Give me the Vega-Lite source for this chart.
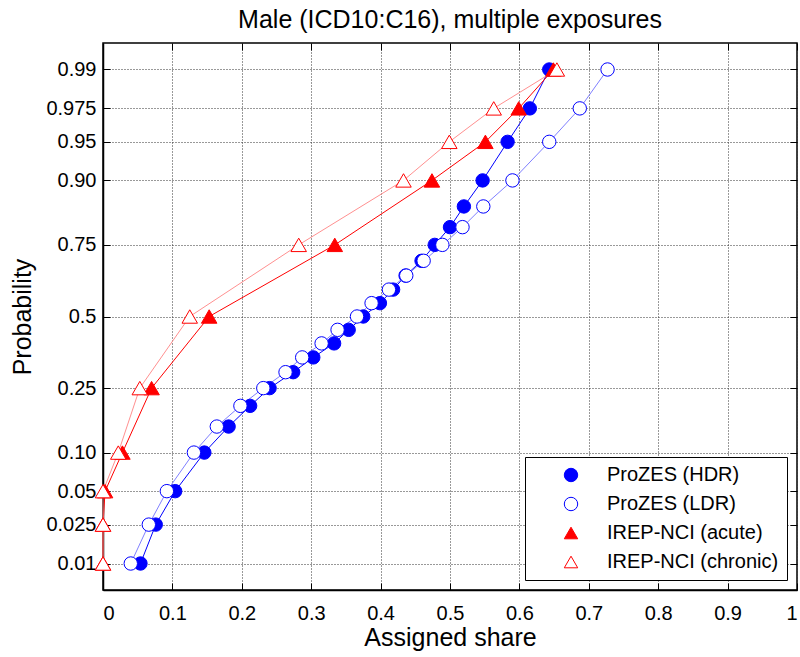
{
  "$schema": "https://vega.github.io/schema/vega-lite/v6.json",
  "width": 694,
  "height": 547,
  "autosize": {"type": "none"},
  "padding": {"left": 103, "top": 43, "right": 3, "bottom": 67},
  "background": "white",
  "title": {"text": "Male (ICD10:C16), multiple exposures", "fontSize": 25, "font": "Liberation Sans", "fontWeight": "normal", "color": "black", "offset": 10, "anchor": "middle"},
  "config": {
    "view": {"stroke": "black", "strokeWidth": 1.5},
    "font": "Liberation Sans",
    "axis": {"labelFont": "Liberation Sans", "titleFont": "Liberation Sans", "labelColor": "black", "titleColor": "black", "titleFontWeight": "normal", "domainColor": "black", "tickColor": "black", "domainWidth": 1.5, "tickWidth": 1, "gridColor": "#333333", "gridDash": [1, 2], "gridWidth": 1, "gridOpacity": 1}
  },
  "data": {"values": [
    {"series": "ProZES (HDR)", "p": 0.01, "z": -2.3263, "share": 0.054},
    {"series": "ProZES (HDR)", "p": 0.025, "z": -1.96, "share": 0.076},
    {"series": "ProZES (HDR)", "p": 0.05, "z": -1.6449, "share": 0.104},
    {"series": "ProZES (HDR)", "p": 0.10, "z": -1.2816, "share": 0.146},
    {"series": "ProZES (HDR)", "p": 0.15, "z": -1.0364, "share": 0.181},
    {"series": "ProZES (HDR)", "p": 0.20, "z": -0.8416, "share": 0.212},
    {"series": "ProZES (HDR)", "p": 0.25, "z": -0.6745, "share": 0.240},
    {"series": "ProZES (HDR)", "p": 0.30, "z": -0.5244, "share": 0.274},
    {"series": "ProZES (HDR)", "p": 0.35, "z": -0.3853, "share": 0.303},
    {"series": "ProZES (HDR)", "p": 0.40, "z": -0.2533, "share": 0.333},
    {"series": "ProZES (HDR)", "p": 0.45, "z": -0.1257, "share": 0.354},
    {"series": "ProZES (HDR)", "p": 0.50, "z": 0, "share": 0.375},
    {"series": "ProZES (HDR)", "p": 0.55, "z": 0.1257, "share": 0.399},
    {"series": "ProZES (HDR)", "p": 0.60, "z": 0.2533, "share": 0.418},
    {"series": "ProZES (HDR)", "p": 0.65, "z": 0.3853, "share": 0.436},
    {"series": "ProZES (HDR)", "p": 0.70, "z": 0.5244, "share": 0.459},
    {"series": "ProZES (HDR)", "p": 0.75, "z": 0.6745, "share": 0.478},
    {"series": "ProZES (HDR)", "p": 0.80, "z": 0.8416, "share": 0.500},
    {"series": "ProZES (HDR)", "p": 0.85, "z": 1.0364, "share": 0.520},
    {"series": "ProZES (HDR)", "p": 0.90, "z": 1.2816, "share": 0.547},
    {"series": "ProZES (HDR)", "p": 0.95, "z": 1.6449, "share": 0.583},
    {"series": "ProZES (HDR)", "p": 0.975, "z": 1.96, "share": 0.615},
    {"series": "ProZES (HDR)", "p": 0.99, "z": 2.3263, "share": 0.643},
    {"series": "ProZES (LDR)", "p": 0.01, "z": -2.3263, "share": 0.040},
    {"series": "ProZES (LDR)", "p": 0.025, "z": -1.96, "share": 0.066},
    {"series": "ProZES (LDR)", "p": 0.05, "z": -1.6449, "share": 0.092},
    {"series": "ProZES (LDR)", "p": 0.10, "z": -1.2816, "share": 0.131},
    {"series": "ProZES (LDR)", "p": 0.15, "z": -1.0364, "share": 0.164},
    {"series": "ProZES (LDR)", "p": 0.20, "z": -0.8416, "share": 0.198},
    {"series": "ProZES (LDR)", "p": 0.25, "z": -0.6745, "share": 0.231},
    {"series": "ProZES (LDR)", "p": 0.30, "z": -0.5244, "share": 0.263},
    {"series": "ProZES (LDR)", "p": 0.35, "z": -0.3853, "share": 0.287},
    {"series": "ProZES (LDR)", "p": 0.40, "z": -0.2533, "share": 0.315},
    {"series": "ProZES (LDR)", "p": 0.45, "z": -0.1257, "share": 0.338},
    {"series": "ProZES (LDR)", "p": 0.50, "z": 0, "share": 0.366},
    {"series": "ProZES (LDR)", "p": 0.55, "z": 0.1257, "share": 0.387},
    {"series": "ProZES (LDR)", "p": 0.60, "z": 0.2533, "share": 0.412},
    {"series": "ProZES (LDR)", "p": 0.65, "z": 0.3853, "share": 0.437},
    {"series": "ProZES (LDR)", "p": 0.70, "z": 0.5244, "share": 0.462},
    {"series": "ProZES (LDR)", "p": 0.75, "z": 0.6745, "share": 0.489},
    {"series": "ProZES (LDR)", "p": 0.80, "z": 0.8416, "share": 0.518},
    {"series": "ProZES (LDR)", "p": 0.85, "z": 1.0364, "share": 0.548},
    {"series": "ProZES (LDR)", "p": 0.90, "z": 1.2816, "share": 0.590},
    {"series": "ProZES (LDR)", "p": 0.95, "z": 1.6449, "share": 0.643},
    {"series": "ProZES (LDR)", "p": 0.975, "z": 1.96, "share": 0.687},
    {"series": "ProZES (LDR)", "p": 0.99, "z": 2.3263, "share": 0.727},
    {"series": "IREP-NCI (acute)", "p": 0.01, "z": -2.3263, "share": 0.0},
    {"series": "IREP-NCI (acute)", "p": 0.025, "z": -1.96, "share": 0.0},
    {"series": "IREP-NCI (acute)", "p": 0.05, "z": -1.6449, "share": 0.003},
    {"series": "IREP-NCI (acute)", "p": 0.10, "z": -1.2816, "share": 0.028},
    {"series": "IREP-NCI (acute)", "p": 0.25, "z": -0.6745, "share": 0.070},
    {"series": "IREP-NCI (acute)", "p": 0.50, "z": 0, "share": 0.153},
    {"series": "IREP-NCI (acute)", "p": 0.75, "z": 0.6745, "share": 0.334},
    {"series": "IREP-NCI (acute)", "p": 0.90, "z": 1.2816, "share": 0.474},
    {"series": "IREP-NCI (acute)", "p": 0.95, "z": 1.6449, "share": 0.551},
    {"series": "IREP-NCI (acute)", "p": 0.975, "z": 1.96, "share": 0.599},
    {"series": "IREP-NCI (acute)", "p": 0.99, "z": 2.3263, "share": 0.649},
    {"series": "IREP-NCI (chronic)", "p": 0.01, "z": -2.3263, "share": 0.0},
    {"series": "IREP-NCI (chronic)", "p": 0.025, "z": -1.96, "share": 0.0},
    {"series": "IREP-NCI (chronic)", "p": 0.05, "z": -1.6449, "share": 0.0},
    {"series": "IREP-NCI (chronic)", "p": 0.10, "z": -1.2816, "share": 0.022},
    {"series": "IREP-NCI (chronic)", "p": 0.25, "z": -0.6745, "share": 0.053},
    {"series": "IREP-NCI (chronic)", "p": 0.50, "z": 0, "share": 0.125},
    {"series": "IREP-NCI (chronic)", "p": 0.75, "z": 0.6745, "share": 0.282},
    {"series": "IREP-NCI (chronic)", "p": 0.90, "z": 1.2816, "share": 0.433},
    {"series": "IREP-NCI (chronic)", "p": 0.95, "z": 1.6449, "share": 0.499},
    {"series": "IREP-NCI (chronic)", "p": 0.975, "z": 1.96, "share": 0.563},
    {"series": "IREP-NCI (chronic)", "p": 0.99, "z": 2.3263, "share": 0.654}
  ]},
  "layer": [
    {
      "mark": {"type": "line", "strokeWidth": 1},
      "encoding": {
        "x": {"field": "share", "type": "quantitative", "scale": {"domain": [0, 1], "nice": false},
          "axis": {"orient": "bottom", "values": [0, 0.1, 0.2, 0.3, 0.4, 0.5, 0.6, 0.7, 0.8, 0.9, 1], "format": "~g", "grid": true, "tickSize": -7, "labelFontSize": 20, "labelPadding": 20, "title": "Assigned share", "titleFontSize": 25, "titlePadding": 2}},
        "y": {"field": "z", "type": "quantitative", "scale": {"domain": [-2.5758, 2.5758], "nice": false, "zero": false},
          "axis": {"orient": "left", "values": [-2.3263, -1.96, -1.6449, -1.2816, -0.6745, 0, 0.6745, 1.2816, 1.6449, 1.96, 2.3263], "labelExpr": "datum.value > 2.3 ? '0.99' : datum.value > 1.9 ? '0.975' : datum.value > 1.6 ? '0.95' : datum.value > 1.2 ? '0.90' : datum.value > 0.6 ? '0.75' : datum.value > -0.1 ? '0.5' : datum.value > -0.7 ? '0.25' : datum.value > -1.3 ? '0.10' : datum.value > -1.7 ? '0.05' : datum.value > -2 ? '0.025' : '0.01'", "grid": true, "tickSize": -7, "labelFontSize": 20, "labelPadding": 14, "title": "Probability", "titleFontSize": 25, "titlePadding": 10}},
        "color": {"field": "series", "type": "nominal", "scale": {"domain": ["IREP-NCI (acute)", "IREP-NCI (chronic)", "ProZES (HDR)", "ProZES (LDR)"], "range": ["#ff0000", "#ff9090", "#0000ff", "#8080ff"]}, "legend": null},
        "order": {"field": "z", "type": "quantitative"}
      }
    },
    {
      "transform": [{"filter": "indexof(datum.series, 'ProZES') >= 0"}],
      "mark": {"type": "point", "opacity": 1, "strokeWidth": 1, "fillOpacity": 1},
      "encoding": {
        "x": {"field": "share", "type": "quantitative",
          "axis": {"orient": "top", "values": [0, 0.1, 0.2, 0.3, 0.4, 0.5, 0.6, 0.7, 0.8, 0.9, 1], "labels": false, "title": null, "grid": false, "tickSize": -7, "domain": false}},
        "y": {"field": "z", "type": "quantitative",
          "axis": {"orient": "right", "values": [-2.3263, -1.96, -1.6449, -1.2816, -0.6745, 0, 0.6745, 1.2816, 1.6449, 1.96, 2.3263], "labels": false, "title": null, "grid": false, "tickSize": -7, "domain": false}},
        "shape": {"field": "series", "type": "nominal", "scale": {"domain": ["ProZES (HDR)", "ProZES (LDR)", "IREP-NCI (acute)", "IREP-NCI (chronic)"], "range": ["circle", "circle", "triangle-up", "triangle-up"]},
          "legend": {"title": null, "orient": "bottom-right", "offset": 10, "fillColor": "white", "strokeColor": "black", "padding": 8, "labelFontSize": 20, "labelFont": "Liberation Sans", "labelColor": "black", "labelLimit": 260, "symbolSize": 180, "symbolStrokeWidth": 1, "symbolOffset": 28, "labelOffset": 26, "rowPadding": 9}},
        "fill": {"field": "series", "type": "nominal", "scale": {"domain": ["ProZES (HDR)", "ProZES (LDR)", "IREP-NCI (acute)", "IREP-NCI (chronic)"], "range": ["#0000ff", "#ffffff", "#ff0000", "#ffffff"]}, "legend": {"title": null}},
        "stroke": {"field": "series", "type": "nominal", "scale": {"domain": ["ProZES (HDR)", "ProZES (LDR)", "IREP-NCI (acute)", "IREP-NCI (chronic)"], "range": ["#0000ff", "#0000ff", "#ff0000", "#ff0000"]}, "legend": {"title": null}},
        "size": {"value": 180}
      }
    },
    {
      "transform": [{"filter": "indexof(datum.series, 'IREP') >= 0"}],
      "mark": {"type": "point", "opacity": 1, "strokeWidth": 1, "fillOpacity": 1},
      "encoding": {
        "x": {"field": "share", "type": "quantitative", "axis": null},
        "y": {"field": "z", "type": "quantitative", "axis": null},
        "shape": {"field": "series", "type": "nominal",
          "legend": {"title": null, "orient": "bottom-right", "offset": 10, "fillColor": "white", "strokeColor": "black", "padding": 8, "labelFontSize": 20, "labelFont": "Liberation Sans", "labelColor": "black", "labelLimit": 260, "symbolSize": 180, "symbolStrokeWidth": 1, "symbolOffset": 28, "labelOffset": 26, "rowPadding": 9}},
        "fill": {"field": "series", "type": "nominal", "legend": {"title": null}},
        "stroke": {"field": "series", "type": "nominal", "legend": {"title": null}},
        "size": {"value": 240}
      }
    }
  ],
  "resolve": {"axis": {"x": "independent", "y": "independent"}}
}
